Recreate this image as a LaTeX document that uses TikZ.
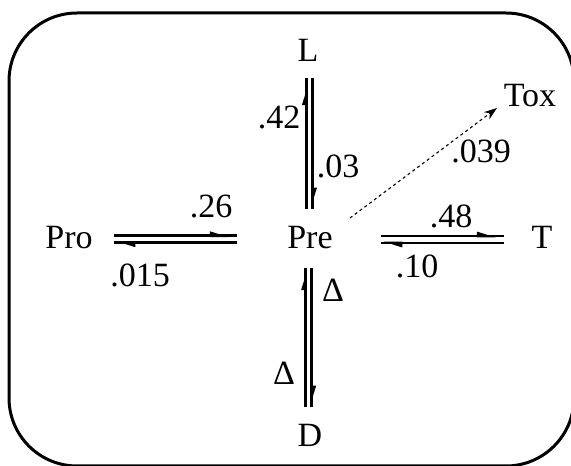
\documentclass[tikz,border=0pt]{standalone}
\usepackage{fontspec}
\setmainfont{Liberation Serif}
\usetikzlibrary{arrows.meta}
\begin{document}
\begin{tikzpicture}[x=1pt,y=1pt,
  lbl/.style={font=\fontsize{34}{34}\selectfont, anchor=base, inner sep=0pt},
  rail/.style={line width=2.8pt},
  barb/.style={line width=2.8pt, -{Triangle[harpoon,length=15pt,width=8pt]}},
  dashconn/.style={line width=1.1pt, dash pattern=on 3pt off 3pt, -{Stealth[length=13pt,width=9pt]}},
  frame/.style={line width=3pt, rounded corners=68pt}]
\useasboundingbox (0,0) rectangle (571,466);
\begin{scope}
\clip (0,0) rectangle (571,466);
\draw[frame] (9,0) rectangle (574,453);
\end{scope}
% species
\node[lbl] (L) at (308,404) {L};
\node[lbl] (Tox) at (530,359) {Tox};
\node[lbl] (Pro) at (69,217) {Pro};
\node[lbl] (Pre) at (310,217) {Pre};
\node[lbl] (T) at (542,217) {T};
\node[lbl] (D) at (310,19) {D};
% rates
\node[lbl] (r26) at (211,248) {.26};
\node[lbl] (r015) at (140,179) {.015};
\node[lbl] (r48) at (451,238) {.48};
\node[lbl] (r10) at (417,188) {.10};
\node[lbl] (r42) at (279,337) {.42};
\node[lbl] (r03) at (338,288) {.03};
\node[lbl] (r039) at (481,303) {.039};
\node[lbl] (d1) at (333,164) {Δ};
\node[lbl] (d2) at (284,81) {Δ};
% rail end points
\coordinate (pp1) at (114,230.3); \coordinate (pp2) at (237,230.3);
\coordinate (pp3) at (237,223.3); \coordinate (pp4) at (114,223.3);
\coordinate (pt1) at (381,230); \coordinate (pt2) at (504,230);
\coordinate (pt3) at (504,223); \coordinate (pt4) at (381,223);
\coordinate (lp1) at (306.3,257); \coordinate (lp2) at (306.3,388);
\coordinate (lp3) at (312.5,388); \coordinate (lp4) at (312.5,257);
\coordinate (pd1) at (305.5,59); \coordinate (pd2) at (305.5,198);
\coordinate (pd3) at (311.7,198); \coordinate (pd4) at (311.7,59);
\coordinate (tx1) at (350,248); \coordinate (tx2) at (497,358);
% Pro <-> Pre
\draw[rail] (pp1) -- (pp2); \draw[barb, shorten >=7pt] (pp1) -- (pp2);
\draw[rail] (pp3) -- (pp4); \draw[barb, shorten >=1pt] (pp3) -- (pp4);
% Pre <-> T
\draw[rail] (pt1) -- (pt2); \draw[barb, shorten >=7pt] (pt1) -- (pt2);
\draw[rail] (pt3) -- (pt4); \draw[barb, shorten >=1pt] (pt3) -- (pt4);
% L <-> Pre
\draw[rail] (lp1) -- (lp2); \draw[barb, shorten >=7pt] (lp1) -- (lp2);
\draw[rail] (lp3) -- (lp4); \draw[barb, shorten >=1pt] (lp3) -- (lp4);
% Pre <-> D
\draw[rail] (pd1) -- (pd2); \draw[barb, shorten >=2pt] (pd1) -- (pd2);
\draw[rail] (pd3) -- (pd4); \draw[barb, shorten >=1pt] (pd3) -- (pd4);
% Pre -> Tox
\draw[dashconn] (tx1) -- (tx2);
\end{tikzpicture}
\end{document}
